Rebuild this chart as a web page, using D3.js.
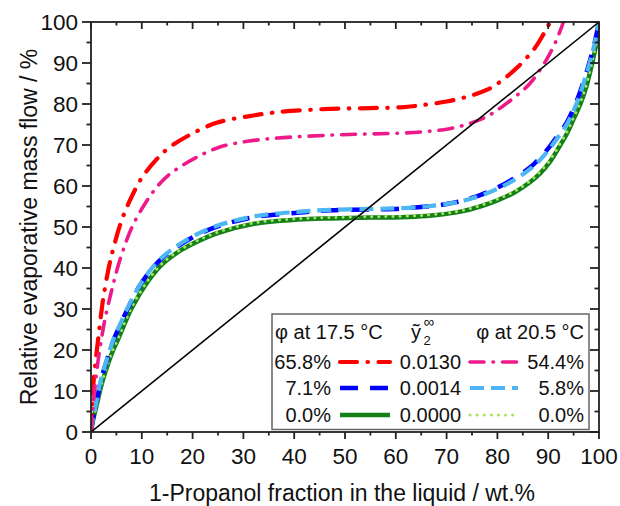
<!DOCTYPE html>
<html><head><meta charset="utf-8">
<script src="https://cdn.jsdelivr.net/npm/d3@7"></script>
<style>body{margin:0;background:#fff}svg{display:block}text{font-family:"Liberation Sans",Arial,sans-serif;fill:#111}</style>
</head><body><svg id="c" width="620" height="506"></svg>
<script>
// ---- data ----
const xTicks = [0,10,20,30,40,50,60,70,80,90,100];
const yTicks = [0,10,20,30,40,50,60,70,80,90,100];
const xTitle = "1-Propanol fraction in the liquid / wt.%";
const yTitle = "Relative evaporative mass flow / %";

const red658 = [[0,0],[0.3,9],[0.8,16],[1.44,23],[1.77,26.5],[2.4,32.5],[3.4,39.5],[4.4,44.8],[6,51.5],[7.7,56.6],[10,62],[12.9,66.5],[15.2,69.2],[19.2,72.3],[24.7,75.4],[31.5,77.1],[37.4,78.1],[47,78.8],[55,79],[61,79.2],[65,79.7],[70,80.6],[74.4,81.9],[78,83.5],[80.3,85.2],[84,89],[87.4,93.7],[89.2,97.3],[90.4,100]];
const pink544 = [[0,0],[0.3,5],[0.7,10],[1.3,16.5],[2.1,23],[2.75,27.5],[4.06,34.5],[5.7,42],[8,49.8],[10.9,56.2],[13,59.8],[15.2,62.6],[17.7,64.8],[20.8,67],[25.1,69.4],[30.8,70.9],[36.7,71.7],[47,72.4],[55,72.7],[61,72.9],[66,73.3],[70.3,73.9],[74.4,75.2],[78,77],[81,79.4],[84,82.3],[86.4,85],[89.7,90.9],[91.7,95.8],[93,100]];
const blue71 = [[0,0],[0.3,2.6],[0.65,4.7],[1,6.8],[2,12.8],[3,17],[4.4,22.3],[5.7,26],[7.7,31.3],[9.5,35.5],[11.6,39.2],[14,42.4],[17.2,45.4],[21,48.1],[25.1,50.2],[32.1,52.4],[40.7,53.5],[47.2,54.1],[55,54.3],[61,54.5],[66,55],[70,55.6],[73,56.4],[76.6,57.8],[80,59.6],[83.2,61.8],[86.4,64.5],[88.5,67],[90.4,69.8],[92,72.5],[93.7,75.6],[95.7,81],[97.7,88.4],[99,94.2],[100,100]];
const lblue58 = [[0,0],[0.3,2.7],[0.65,4.8],[1,6.9],[2,13],[3,17.2],[4.4,22.5],[5.7,26.2],[7.7,31.5],[9.5,35.6],[11.6,39.4],[14,42.6],[17.2,45.6],[21,48.3],[25.1,50.4],[32.1,52.6],[40.7,53.7],[47.2,54.2],[55,54.4],[61,54.6],[66,55],[70,55.6],[73,56.3],[76.6,57.6],[80,59.3],[83.2,61.4],[86.4,64.1],[88.5,66.5],[90.4,69.3],[92,72],[93.7,75.1],[95.7,80.5],[97.7,88],[99,94],[100,100]];
const green00 = [[0,0],[0.3,2.2],[0.65,4.2],[1,5.9],[2,11.2],[3,15.3],[4.2,19.5],[5.4,22.8],[8,30.2],[11.3,36.9],[14,40.9],[17.8,44.4],[21,46.5],[25.1,48.6],[32.1,50.8],[40.7,51.8],[47.2,52.1],[55,52.3],[61,52.4],[66,52.7],[70,53.2],[73,53.8],[76.6,55],[80,56.5],[83.2,58.3],[86.4,60.9],[88.5,63.2],[90.4,66],[92,69.2],[93.7,72.8],[95,76.3],[96.4,80.2],[97.5,84.2],[98.4,88.6],[99.2,93],[99.7,96],[100,100]];
const lgreen00 = [[0,0],[0.3,2.3],[0.65,4.3],[1,6.1],[2,11.4],[3,15.5],[4.2,19.7],[5.4,23],[8,30.4],[11.3,37.1],[14,41.1],[17.8,44.6],[21,46.7],[25.1,48.8],[32.1,51],[40.7,52],[47.2,52.3],[55,52.5],[61,52.6],[66,52.9],[70,53.4],[73,54],[76.6,55.2],[80,56.8],[83.2,58.6],[86.4,61.2],[88.5,63.6],[90.4,66.4],[92,69.6],[93.7,73.2],[95,76.7],[96.4,80.6],[97.5,84.6],[98.4,89],[99.2,93.4],[99.7,96.2],[100,100]];
const diagonal = [[0,0],[100,100]];

const legHeaders = ["φ at 17.5 °C", "φ at 20.5 °C"];
const legLeft = ["65.8%","7.1%","0.0%"];
const legMid = ["0.0130","0.0014","0.0000"];
const legRight = ["54.4%","5.8%","0.0%"];

// ---- layout ----
const svg = d3.select("#c");
const L=91, R=599, T=22, B=432;
const x = d3.scaleLinear().domain([0,100]).range([L,R]);
const y = d3.scaleLinear().domain([0,100]).range([B,T]);

const styles = {
  red:   {c:"#ff0000", w:4.2, d:"17,10.5,0.5,10.5", cap:"round"},
  pink:  {c:"#ee1a8a", w:3.6, d:"14,9,0.5,9", cap:"round"},
  blue:  {c:"#0000ff", w:4.5, d:"18,12", cap:"butt"},
  lblue: {c:"#4cb6f2", w:4.2, d:"14,7", cap:"butt"},
  green: {c:"#13801a", w:4.5, d:null, cap:"butt"},
  lgreen:{c:"#a4e35c", w:3, d:"0.1,7", cap:"round"}
};

svg.append("defs").append("clipPath").attr("id","clip")
  .append("rect").attr("x",L).attr("y",T-1).attr("width",R-L+1).attr("height",B-T+1);

const line = d3.line().x(d=>x(d[0])).y(d=>y(d[1])).curve(d3.curveCatmullRom.alpha(0.5));
const g = svg.append("g").attr("clip-path","url(#clip)");
function draw(data, s){
  const p = g.append("path").attr("d", line(data)).attr("fill","none")
    .attr("stroke", s.c).attr("stroke-width", s.w).attr("stroke-linecap", s.cap).attr("stroke-linejoin","round");
  if (s.d) p.attr("stroke-dasharray", s.d);
}
draw(green00, styles.green);
draw(lgreen00, styles.lgreen);
draw(blue71, styles.blue);
draw(lblue58, styles.lblue);
draw(red658, styles.red);
draw(pink544, styles.pink);
g.append("path").attr("d", d3.line().x(d=>x(d[0])).y(d=>y(d[1]))(diagonal))
  .attr("stroke","#000").attr("stroke-width",1.6).attr("fill","none");

// ---- axes ----
const axC="#222", axW=1.8;
const minorX = d3.range(5,100,10), minorY = d3.range(5,100,10);
const ax = svg.append("g").attr("stroke",axC).attr("stroke-width",axW);
xTicks.forEach(v=>ax.append("line").attr("x1",x(v)).attr("x2",x(v)).attr("y1",B).attr("y2",B+7));
minorX.forEach(v=>ax.append("line").attr("x1",x(v)).attr("x2",x(v)).attr("y1",B).attr("y2",B+3.5));
xTicks.forEach(v=>ax.append("line").attr("x1",x(v)).attr("x2",x(v)).attr("y1",T).attr("y2",T+7));
minorX.forEach(v=>ax.append("line").attr("x1",x(v)).attr("x2",x(v)).attr("y1",T).attr("y2",T+3.5));
yTicks.forEach(v=>ax.append("line").attr("y1",y(v)).attr("y2",y(v)).attr("x1",L).attr("x2",L-9));
minorY.forEach(v=>ax.append("line").attr("y1",y(v)).attr("y2",y(v)).attr("x1",L).attr("x2",L-4.5));
yTicks.forEach(v=>ax.append("line").attr("y1",y(v)).attr("y2",y(v)).attr("x1",R).attr("x2",R-9));
minorY.forEach(v=>ax.append("line").attr("y1",y(v)).attr("y2",y(v)).attr("x1",R).attr("x2",R-4.5));
ax.append("rect").attr("x",L).attr("y",T).attr("width",R-L).attr("height",B-T).attr("fill","none");

const fs=22.5;
xTicks.forEach(v=>svg.append("text").attr("x",x(v)).attr("y",464).attr("text-anchor","middle")
  .attr("font-size",fs).text(v));
yTicks.forEach(v=>svg.append("text").attr("x",78).attr("y",y(v)+8).attr("text-anchor","end")
  .attr("font-size",fs).text(v));
svg.append("text").attr("x",(L+R)/2-3).attr("y",501).attr("text-anchor","middle").attr("font-size",23).text(xTitle);
svg.append("text").attr("transform","translate(37,227) rotate(-90)").attr("text-anchor","middle")
  .attr("font-size",23).text(yTitle);

// ---- legend ----
const lg = svg.append("g");
lg.append("rect").attr("x",272).attr("y",314).attr("width",317).attr("height",115.5)
  .attr("fill","#fff").attr("stroke","#666").attr("stroke-width",1.5);
const lfs=20;
lg.append("text").attr("x",275).attr("y",339).attr("font-size",lfs).text(legHeaders[0]);
lg.append("text").attr("x",584).attr("y",339).attr("text-anchor","end").attr("font-size",lfs).text(legHeaders[1]);
lg.append("text").attr("x",411).attr("y",339).attr("font-size",lfs).text("ỹ");
lg.append("text").attr("x",423.5).attr("y",345).attr("font-size",13).text("2");
lg.append("text").attr("x",423.5).attr("y",327).attr("font-size",15).text("∞");
const rowsY=[362,388,415];
const leftStyles=[styles.red, styles.blue, styles.green];
const rightStyles=[styles.pink, styles.lblue, styles.lgreen];
rowsY.forEach((ry,i)=>{
  lg.append("text").attr("x",331).attr("y",ry+7).attr("text-anchor","end").attr("font-size",lfs).text(legLeft[i]);
  lg.append("text").attr("x",461).attr("y",ry+7).attr("text-anchor","end").attr("font-size",lfs).text(legMid[i]);
  lg.append("text").attr("x",584).attr("y",ry+7).attr("text-anchor","end").attr("font-size",lfs).text(legRight[i]);
  [[leftStyles[i],340,390],[rightStyles[i],470,518]].forEach(([s,a,b])=>{
    const l = lg.append("line").attr("x1",a).attr("x2",b).attr("y1",ry).attr("y2",ry)
      .attr("stroke",s.c).attr("stroke-width",s.w).attr("stroke-linecap",s.cap);
    if (s.d) l.attr("stroke-dasharray", s.d);
  });
});
</script></body></html>
